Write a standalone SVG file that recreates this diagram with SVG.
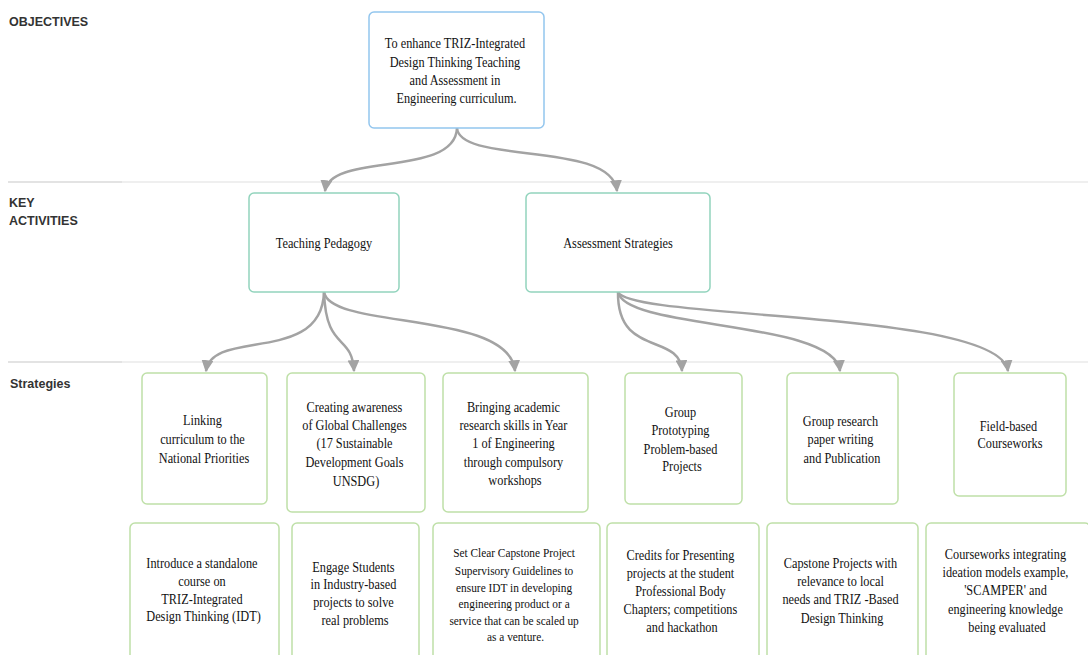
<svg xmlns="http://www.w3.org/2000/svg" width="1088" height="655" viewBox="0 0 1088 655">
  <style>
    .hdr { font-family: "Liberation Sans", Arial, sans-serif; font-weight: bold; font-size: 12.5px; fill: #333; }
    .box { fill: #fff; stroke-width: 1.5; }
    .obj { stroke: #93c6ee; }
    .act { stroke: #92d4bd; }
    .str { stroke: #bfe0a8; }
    .lbl { font-family: "Liberation Serif", "Times New Roman", serif; font-size: 14.3px; fill: #111; text-anchor: middle; }
    .sm { font-size: 13.2px; }
    .sep { stroke: #efefef; stroke-width: 2; }
    .sepd { stroke: #e3e3e3; stroke-width: 2; }
    .edge { fill: none; stroke: #a3a3a3; stroke-width: 2.5; }
  </style>
  <defs>
    <marker id="arrow" viewBox="0 0 10 10" refX="9" refY="5" markerWidth="12" markerHeight="12" markerUnits="userSpaceOnUse" orient="auto">
      <path d="M0,0 L10,5 L0,10 z" fill="#a3a3a3"/>
    </marker>
  </defs>
  <rect width="1088" height="655" fill="#fff"/>

  <!-- row separators and row headings -->
  <g id="rows">
    <line class="sep" x1="8" y1="182" x2="1088" y2="182"/>
    <line class="sepd" x1="8" y1="182" x2="122" y2="182"/>
    <line class="sep" x1="8" y1="362" x2="1088" y2="362"/>
    <line class="sepd" x1="8" y1="362" x2="122" y2="362"/>
    <text class="hdr" x="9" y="26">OBJECTIVES</text>
    <text class="hdr" x="9" y="207">KEY</text>
    <text class="hdr" x="9" y="225">ACTIVITIES</text>
    <text class="hdr" x="10" y="388">Strategies</text>
  </g>

  <!-- connectors -->
  <g id="connectors">
    <path class="edge" marker-end="url(#arrow)" d="M457,128 C455,178 330,152 325,191"/>
    <path class="edge" marker-end="url(#arrow)" d="M457,128 C460,165 612,140 617,191"/>
    <path class="edge" marker-end="url(#arrow)" d="M324,292 C322,365 212,328 206,371"/>
    <path class="edge" marker-end="url(#arrow)" d="M324,292 C326,352 352,333 354,371"/>
    <path class="edge" marker-end="url(#arrow)" d="M324,292 C330,330 510,310 515,371"/>
    <path class="edge" marker-end="url(#arrow)" d="M618,292 C617,358 680,332 682,371"/>
    <path class="edge" marker-end="url(#arrow)" d="M618,292 C625,330 835,320 840,371"/>
    <path class="edge" marker-end="url(#arrow)" d="M618,292 C630,320 1000,310 1008,371"/>
  </g>

  <!-- objective -->
  <g id="objective">
    <rect class="box obj" x="369" y="12" width="175" height="116" rx="5"/>
    <text class="lbl" transform="translate(456.5 0) scale(0.86 1)">
      <tspan x="0" y="48.5">To enhance TRIZ-Integrated</tspan>
      <tspan x="0" y="67">Design Thinking Teaching</tspan>
      <tspan x="0" y="85.5">and Assessment in</tspan>
      <tspan x="0" y="103.5">Engineering curriculum.</tspan>
    </text>
  </g>

  <!-- key activities -->
  <g id="teaching-pedagogy">
    <rect class="box act" x="249" y="193" width="150" height="99" rx="5"/>
    <text class="lbl" transform="translate(324 0) scale(0.86 1)"><tspan x="0" y="248">Teaching Pedagogy</tspan></text>
  </g>
  <g id="assessment-strategies">
    <rect class="box act" x="526" y="193" width="184" height="99" rx="5"/>
    <text class="lbl" transform="translate(618 0) scale(0.86 1)"><tspan x="0" y="248">Assessment Strategies</tspan></text>
  </g>

  <!-- strategies, first row -->
  <g id="linking-curriculum">
    <rect class="box str" x="142" y="373" width="125" height="131" rx="5"/>
    <text class="lbl" transform="translate(204 0) scale(0.86 1)">
      <tspan x="0" y="425.5">Linking</tspan>
      <tspan x="0" y="444">curriculum to the</tspan>
      <tspan x="0" y="463">National Priorities</tspan>
    </text>
  </g>
  <g id="global-challenges">
    <rect class="box str" x="287" y="373" width="138" height="139" rx="5"/>
    <text class="lbl" transform="translate(356 0) scale(0.86 1)">
      <tspan x="0" y="412">Creating awareness</tspan>
      <tspan x="0" y="430">of Global Challenges</tspan>
      <tspan x="0" y="448.5">(17 Sustainable</tspan>
      <tspan x="0" y="467">Development Goals</tspan>
      <tspan x="0" y="486">UNSDG)</tspan>
    </text>
  </g>
  <g id="research-skills">
    <rect class="box str" x="443" y="373" width="145" height="139" rx="5"/>
    <text class="lbl" transform="translate(515 0) scale(0.86 1)">
      <tspan x="0" y="412">Bringing academic</tspan>
      <tspan x="0" y="430">research skills in Year</tspan>
      <tspan x="0" y="448.5">1 of Engineering</tspan>
      <tspan x="0" y="467">through compulsory</tspan>
      <tspan x="0" y="485.5">workshops</tspan>
    </text>
  </g>
  <g id="group-prototyping">
    <rect class="box str" x="625" y="373" width="117" height="131" rx="5"/>
    <text class="lbl" transform="translate(682 0) scale(0.86 1)">
      <tspan x="0" y="417">Group</tspan>
      <tspan x="0" y="435.5">Prototyping</tspan>
      <tspan x="0" y="454">Problem-based</tspan>
      <tspan x="0" y="471.5">Projects</tspan>
    </text>
  </g>
  <g id="group-research">
    <rect class="box str" x="787" y="373" width="111" height="131" rx="5"/>
    <text class="lbl" transform="translate(842 0) scale(0.86 1)">
      <tspan x="0" y="426">Group research</tspan>
      <tspan x="0" y="444.5">paper writing</tspan>
      <tspan x="0" y="463">and Publication</tspan>
    </text>
  </g>
  <g id="field-based">
    <rect class="box str" x="954" y="373" width="112" height="123" rx="5"/>
    <text class="lbl" transform="translate(1010 0) scale(0.86 1)">
      <tspan x="0" y="431">Field-based</tspan>
      <tspan x="0" y="448.5">Courseworks</tspan>
    </text>
  </g>

  <!-- strategies, second row -->
  <g id="standalone-course">
    <rect class="box str" x="130" y="523" width="149" height="140" rx="5"/>
    <text class="lbl" transform="translate(203.5 0) scale(0.86 1)">
      <tspan x="0" y="568">Introduce a standalone</tspan>
      <tspan x="0" y="586">course on</tspan>
      <tspan x="0" y="604">TRIZ-Integrated</tspan>
      <tspan x="0" y="621.5">Design Thinking (IDT)</tspan>
    </text>
  </g>
  <g id="industry-projects">
    <rect class="box str" x="292" y="523" width="127" height="140" rx="5"/>
    <text class="lbl" transform="translate(355 0) scale(0.86 1)">
      <tspan x="0" y="572">Engage Students</tspan>
      <tspan x="0" y="589.5">in Industry-based</tspan>
      <tspan x="0" y="607.5">projects to solve</tspan>
      <tspan x="0" y="625">real problems</tspan>
    </text>
  </g>
  <g id="capstone-guidelines">
    <rect class="box str" x="433" y="523" width="167" height="140" rx="5"/>
    <text class="lbl sm" transform="translate(515.5 0) scale(0.86 1)">
      <tspan x="0" y="557.5">Set Clear Capstone Project</tspan>
      <tspan x="0" y="575">Supervisory Guidelines  to</tspan>
      <tspan x="0" y="592">ensure IDT in developing</tspan>
      <tspan x="0" y="608.5">engineering product or a</tspan>
      <tspan x="0" y="625">service that can be scaled up</tspan>
      <tspan x="0" y="641.5">as a venture.</tspan>
    </text>
  </g>
  <g id="presenting-credits">
    <rect class="box str" x="607" y="523" width="152" height="140" rx="5"/>
    <text class="lbl" transform="translate(682 0) scale(0.86 1)">
      <tspan x="0" y="560">Credits for Presenting</tspan>
      <tspan x="0" y="578">projects at the student</tspan>
      <tspan x="0" y="596">Professional Body</tspan>
      <tspan x="0" y="614.5">Chapters; competitions</tspan>
      <tspan x="0" y="632">and hackathon</tspan>
    </text>
  </g>
  <g id="capstone-projects">
    <rect class="box str" x="767" y="523" width="151" height="140" rx="5"/>
    <text class="lbl" transform="translate(842 0) scale(0.86 1)">
      <tspan x="0" y="568.5">Capstone Projects with</tspan>
      <tspan x="0" y="586.5">relevance to local</tspan>
      <tspan x="0" y="604.5">needs and TRIZ -Based</tspan>
      <tspan x="0" y="623">Design Thinking</tspan>
    </text>
  </g>
  <g id="ideation-courseworks">
    <rect class="box str" x="926" y="523" width="164" height="140" rx="5"/>
    <text class="lbl" transform="translate(1007 0) scale(0.86 1)">
      <tspan x="0" y="559">Courseworks integrating</tspan>
      <tspan x="0" y="577.5">ideation models example,</tspan>
      <tspan x="0" y="595.5">'SCAMPER' and</tspan>
      <tspan x="0" y="614">engineering knowledge</tspan>
      <tspan x="0" y="632.5">being evaluated</tspan>
    </text>
  </g>
</svg>
